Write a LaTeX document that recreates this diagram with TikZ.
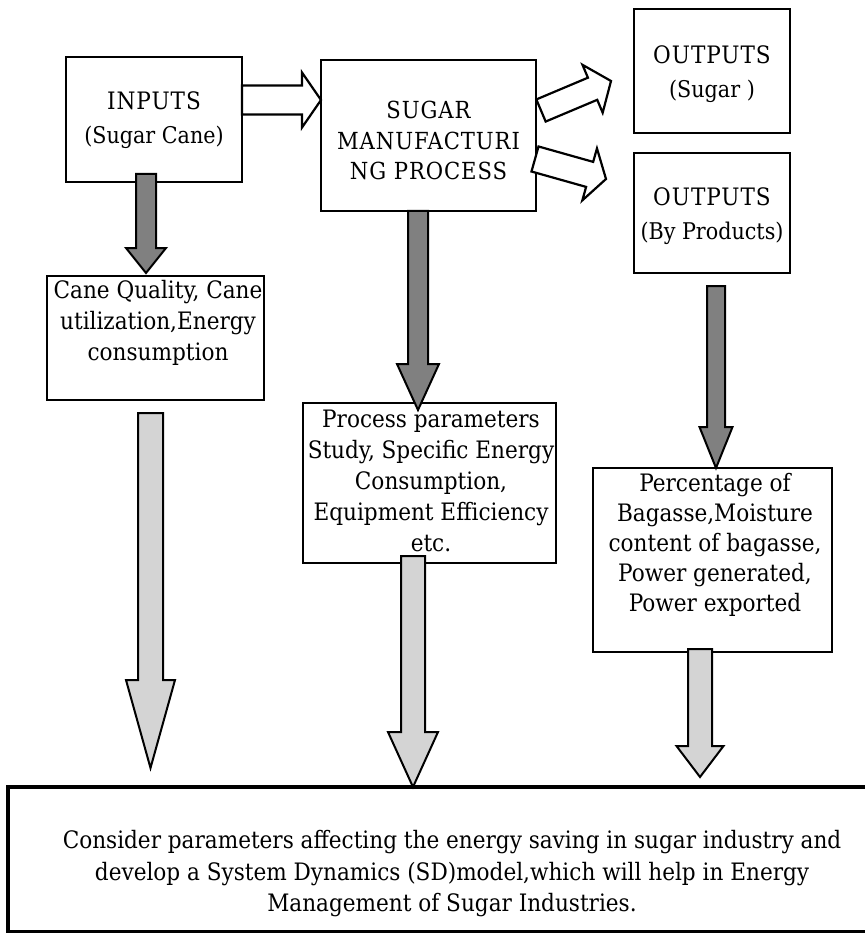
\documentclass[tikz,border=0pt]{standalone}
\usepackage{fontspec}
\setmainfont{DejaVu Serif Condensed}
\newfontfamily\capsfont{DejaVu Serif Condensed}[LetterSpace=4]
\usetikzlibrary{calc}

\definecolor{darkfill}{RGB}{128,128,128}
\definecolor{lightfill}{RGB}{212,212,212}

% block arrow: #1 style, #2 tail, #3 tip, #4 half shaft width, #5 half head width, #6 head length
\newcommand{\blockarrow}[6]{%
  \coordinate (ba-h) at ($(#3)!#6!(#2)$);
  \draw[#1] ($(#2)!#4!90:(#3)$) -- ($(ba-h)!#4!90:(#3)$) -- ($(ba-h)!#5!90:(#3)$)
    -- (#3) -- ($(ba-h)!#5!-90:(#3)$) -- ($(ba-h)!#4!-90:(#3)$)
    -- ($(#2)!#4!-90:(#3)$) -- cycle;}

\tikzset{
  box/.style={draw=black, line width=2.2pt, fill=white, inner sep=0pt, outer sep=0pt},
  txt/.style={align=center, inner sep=0pt, font=\fontsize{24}{31}\selectfont},
  twoline/.style={txt, font=\fontsize{23}{34}\selectfont},
  darkarrow/.style={draw=black, line width=2pt, line join=miter, fill=darkfill},
  lightarrow/.style={draw=black, line width=2pt, line join=miter, fill=lightfill},
  hollowarrow/.style={draw=black, line width=2.2pt, line join=miter, fill=white},
}

\begin{document}
\begin{tikzpicture}[x=1pt, y=-1pt]
\useasboundingbox (0,0) rectangle (864,933);
\fill[white] (0,0) rectangle (864,933);

% boxes
\node[box, minimum width=176pt, minimum height=125pt] (inputs)  at (154,119.5) {};
\node[box, minimum width=215pt, minimum height=151pt] (process) at (428.5,135.5) {};
\node[box, minimum width=156pt, minimum height=124pt] (osugar)  at (712,71) {};
\node[box, minimum width=156pt, minimum height=120pt] (byprod)  at (712,213) {};
\node[box, minimum width=217pt, minimum height=124pt] (cane)    at (155.5,338) {};
\node[box, minimum width=253pt, minimum height=160pt] (params)  at (429.5,483) {};
\node[box, minimum width=239pt, minimum height=184pt] (percent) at (712.5,560) {};
\node[box, line width=4pt, minimum width=864pt, minimum height=145pt] (result) at (440,859.5) {};

% hollow arrows along the main flow
\coordinate (h1s) at ([yshift=19.5pt]inputs.east);
\coordinate (h1e) at (h1s -| process.west);
\blockarrow{hollowarrow}{h1s}{h1e}{14.5pt}{27.5pt}{19pt}

\coordinate (h2s) at ([xshift=5pt,yshift=25pt]process.east);
\coordinate (h2e) at (611,81);
\blockarrow{hollowarrow}{h2s}{h2e}{12pt}{26pt}{20pt}

\coordinate (h3s) at ([xshift=-1pt,yshift=-23.5pt]process.east);
\coordinate (h3e) at (606,179);
\blockarrow{hollowarrow}{h3s}{h3e}{13pt}{27pt}{17pt}

% dark arrows to the parameter boxes
\coordinate (d1s) at ([xshift=-8pt,yshift=8pt]inputs.south);
\coordinate (d1e) at ([xshift=-9.5pt,yshift=3pt]cane.north);
\blockarrow{darkarrow}{d1s}{d1e}{10pt}{20pt}{25pt}

\coordinate (d2s) at ([xshift=-10.5pt]process.south);
\coordinate (d2e) at ([xshift=-11.5pt,yshift=-7pt]params.north);
\blockarrow{darkarrow}{d2s}{d2e}{10pt}{21pt}{46pt}

\coordinate (d3s) at ([xshift=4pt,yshift=-13pt]byprod.south);
\coordinate (d3e) at ([xshift=3.5pt]percent.north);
\blockarrow{darkarrow}{d3s}{d3e}{9pt}{16.5pt}{41pt}

% light arrows towards the model box
\coordinate (l1s) at ([xshift=-5pt,yshift=-13pt]cane.south);
\coordinate (l1e) at (150.5,768);
\blockarrow{lightarrow}{l1s}{l1e}{12.5pt}{24.5pt}{88pt}

\coordinate (l2s) at ([xshift=-16.5pt,yshift=7pt]params.south);
\coordinate (l2e) at (l2s |- result.north);
\blockarrow{lightarrow}{l2s}{l2e}{12pt}{25pt}{55pt}

\coordinate (l3s) at ([xshift=-12.5pt,yshift=3pt]percent.south);
\coordinate (l3e) at (700,777);
\blockarrow{lightarrow}{l3s}{l3e}{12pt}{23.5pt}{31pt}

% texts
\node[twoline] (inputs-t) at (154,120) {{\capsfont\fontsize{24}{34}\selectfont INPUTS}\\(Sugar Cane)};
\node[txt, font=\capsfont\fontsize{23.5}{30.5}\selectfont] (process-t) at (428.5,140.5)
  {SUGAR\\MANUFACTURI\\NG PROCESS};
\node[twoline] (osugar-t) at (712,74) {{\capsfont\fontsize{24}{34}\selectfont OUTPUTS}\\(Sugar )};
\node[twoline] (byprod-t) at (712,216.5) {{\capsfont\fontsize{24}{34}\selectfont OUTPUTS}\\(By Products)};
\node[txt] (cane-t) at (158,323) {Cane Quality, Cane\\utilization,Energy\\consumption};
\node[txt] (params-t) at (431,481)
  {Process parameters\\Study, Specific Energy\\Consumption,\\Equipment Efficiency\\etc.};
\node[txt, font=\fontsize{24}{30}\selectfont] (percent-t) at (715,545)
  {Percentage of\\Bagasse,Moisture\\content of bagasse,\\Power generated,\\Power exported};
\node[txt, font=\fontsize{24}{31.5}\selectfont] (result-t) at (452,874)
  {Consider parameters affecting the energy saving in sugar industry and\\
   develop a System Dynamics (SD)model,which will help in Energy\\
   Management of Sugar Industries.};
\end{tikzpicture}
\end{document}
